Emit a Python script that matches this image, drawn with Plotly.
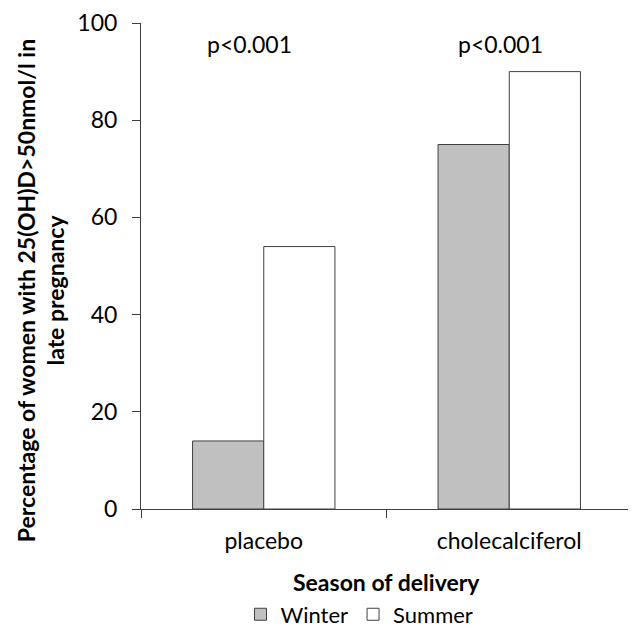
import plotly.graph_objects as go

categories = ["placebo", "cholecalciferol"]
winter = [14, 75]
summer = [54, 90]
p_labels = ["p<0.001", "p<0.001"]
y_ticks = [0, 20, 40, 60, 80, 100]

FONT = "Lato, Carlito, 'Open Sans', sans-serif"
LINE = "#404040"

fig = go.Figure()
fig.add_trace(go.Bar(name="Winter", x=categories, y=winter,
                     marker=dict(color="#C0C0C0", line=dict(color=LINE, width=1))))
fig.add_trace(go.Bar(name="Summer", x=categories, y=summer,
                     marker=dict(color="#FFFFFF", line=dict(color=LINE, width=1))))

p_xshift = [-14, -9]
for c, t, dx in zip(categories, p_labels, p_xshift):
    fig.add_annotation(x=c, y=100, yref="y", xshift=dx, yshift=-21, text=t, showarrow=False,
                       font=dict(size=23, color="#000000", family=FONT))

fig.add_annotation(x=-0.204, y=0.45, xref="paper", yref="paper", textangle=-90,
                   xanchor="center", yanchor="middle", showarrow=False,
                   text="<b>Percentage of women with 25(OH)D>50nmol/l in<br>late pregnancy</b>",
                   font=dict(size=23, family=FONT, color="#000000"))
fig.add_annotation(x=0.50, y=-0.150, xref="paper", yref="paper",
                   xanchor="center", yanchor="middle", showarrow=False,
                   text="<b>Season of delivery</b>",
                   font=dict(size=23, family=FONT, color="#000000"))

fig.update_layout(
    width=636, height=630,
    margin=dict(l=133, r=12, t=15, b=129, autoexpand=False),
    paper_bgcolor="white", plot_bgcolor="white",
    barmode="group", bargap=0.42, bargroupgap=0,
    font=dict(family=FONT, color="#000000", size=22),
    showlegend=True,
    legend=dict(orientation="h", x=0.445, xanchor="center", xref="paper",
                y=-0.217, yanchor="middle", font=dict(size=22),
                itemwidth=30, traceorder="normal"),
    xaxis=dict(showline=True, linecolor=LINE, linewidth=1, ticks="outside",
               tickson="boundaries", ticklen=8, tickcolor=LINE,
               tickfont=dict(size=23), showgrid=False, automargin=False,
               ticklabelstandoff=11),
    yaxis=dict(range=[0, 100], tickvals=y_ticks, showline=True, linecolor=LINE,
               linewidth=1, ticks="outside", ticklen=8, tickcolor=LINE,
               tickfont=dict(size=23), showgrid=False, zeroline=False,
               automargin=False, ticklabelstandoff=10),
)

fig.write_html("out.html")
